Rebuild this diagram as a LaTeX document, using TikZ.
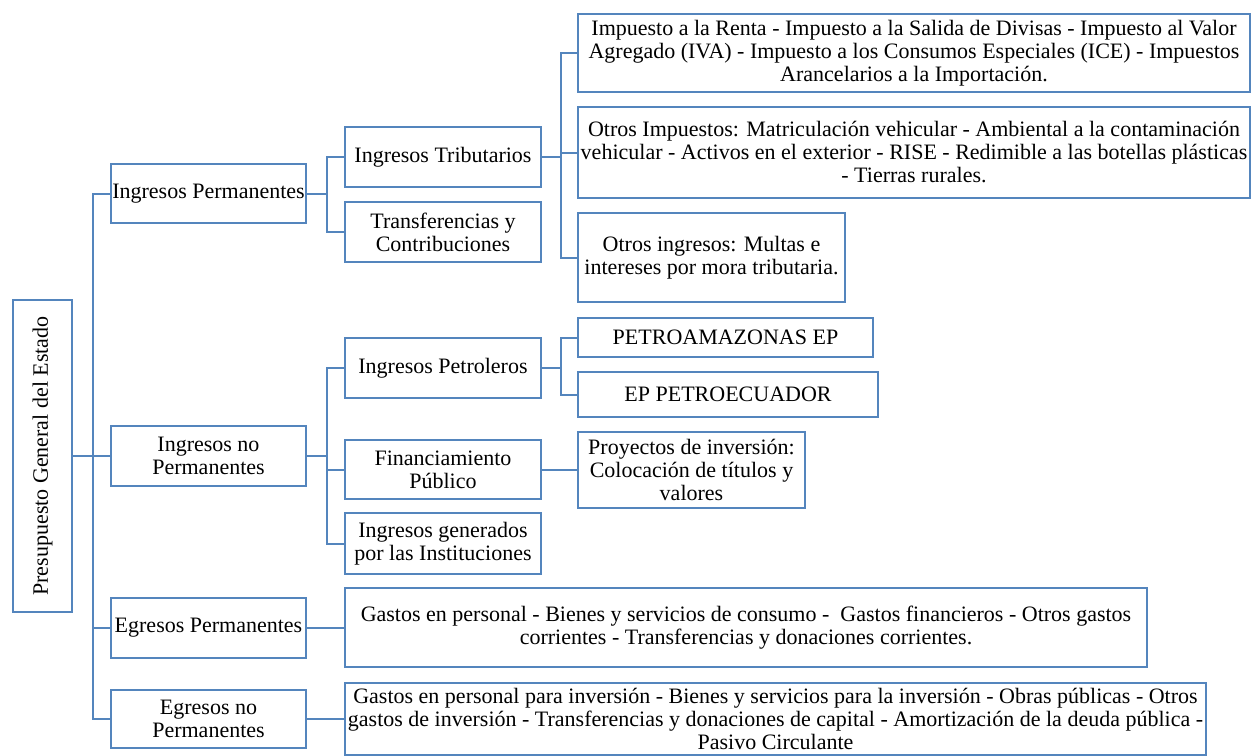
\documentclass[tikz,border=0pt]{standalone}
\usepackage{fontspec}
\setmainfont{Liberation Serif}
\definecolor{lineblue}{RGB}{84,133,189}
\begin{document}
\begin{tikzpicture}[x=1pt,y=-1pt,
  box/.style={draw=lineblue,line width=2pt,inner sep=0pt,align=center,
    font=\fontsize{22pt}{23pt}\selectfont,text=black},
  conn/.style={draw=lineblue,line width=2pt}]
\useasboundingbox (0,0) rectangle (1252,755);
% root
\node[box,rotate=90,minimum width=312,minimum height=59] (root) at (42.5,456) {Presupuesto General del Estado};
% level 1
\node[box,minimum width=195,minimum height=59] (ip) at (208.5,193.5) {Ingresos Permanentes};
\node[box,minimum width=195,minimum height=60] (inp) at (208.5,456) {Ingresos no\\Permanentes};
\node[box,minimum width=195,minimum height=60] (ep) at (208.5,628) {Egresos Permanentes};
\node[box,minimum width=195,minimum height=58] (enp) at (208.5,719) {Egresos no\\Permanentes};
% level 2
\node[box,minimum width=196,minimum height=60] (it) at (443,157) {Ingresos Tributarios};
\node[box,minimum width=196,minimum height=60] (tc) at (443,232) {Transferencias y\\Contribuciones};
\node[box,minimum width=196,minimum height=60] (ipet) at (443,368) {Ingresos Petroleros};
\node[box,minimum width=196,minimum height=59] (fp) at (443,469.5) {Financiamiento\\Público};
\node[box,minimum width=196,minimum height=61] (ig) at (443,543.5) {Ingresos generados\\por las Instituciones};
% level 3
\node[box,minimum width=672,minimum height=78] (b1) at (914,53) {Impuesto a la Renta - Impuesto a la Salida de Divisas - Impuesto al Valor\\Agregado (IVA) - Impuesto a los Consumos Especiales (ICE) - Impuestos\\Arancelarios a la Importación.};
\node[box,minimum width=672,minimum height=91] (b2) at (914,152.5) {Otros Impuestos: Matriculación vehicular - Ambiental a la contaminación\\vehicular - Activos en el exterior - RISE - Redimible a las botellas plásticas\\- Tierras rurales.};
\node[box,minimum width=267,minimum height=89] (b3) at (711.5,257.5) {Otros ingresos: Multas e\\intereses por mora tributaria.};
\node[box,minimum width=295,minimum height=39] (pa) at (725.5,337.5) {PETROAMAZONAS EP};
\node[box,minimum width=300,minimum height=45] (pe) at (728,394.5) {EP PETROECUADOR};
\node[box,minimum width=227,minimum height=76] (pi) at (691.5,470) {Proyectos de inversión:\\Colocación de títulos y\\valores};
\node[box,minimum width=802,minimum height=79] (gp) at (746,627.5) {Gastos en personal - Bienes y servicios de consumo - \ Gastos financieros - Otros gastos\\corrientes - Transferencias y donaciones corrientes.};
\node[box,minimum width=861,minimum height=72] (gi) at (775.5,719) {Gastos en personal para inversión - Bienes y servicios para la inversión - Obras públicas - Otros\\gastos de inversión - Transferencias y donaciones de capital - Amortización de la deuda pública -\\Pasivo Circulante};
% connectors
\foreach \n in {ip,inp,ep,enp} \draw[conn] (root.south) -- +(19.5,0) |- (\n.west);
\foreach \n in {it,tc} \draw[conn] (ip.east) -- +(20,0) |- (\n.west);
\foreach \n in {ipet,fp,ig} \draw[conn] (inp.east) -- +(20,0) |- (\n.west);
\foreach \n in {b1,b2,b3} \draw[conn] (it.east) -- +(18.5,0) |- (\n.west);
\foreach \n in {pa,pe} \draw[conn] (ipet.east) -- +(18.5,0) |- (\n.west);
\draw[conn] (fp.east) -- (fp.east -| pi.west);
\draw[conn] (ep.east) -- (ep.east -| gp.west);
\draw[conn] (enp.east) -- (enp.east -| gi.west);
\end{tikzpicture}
\end{document}
